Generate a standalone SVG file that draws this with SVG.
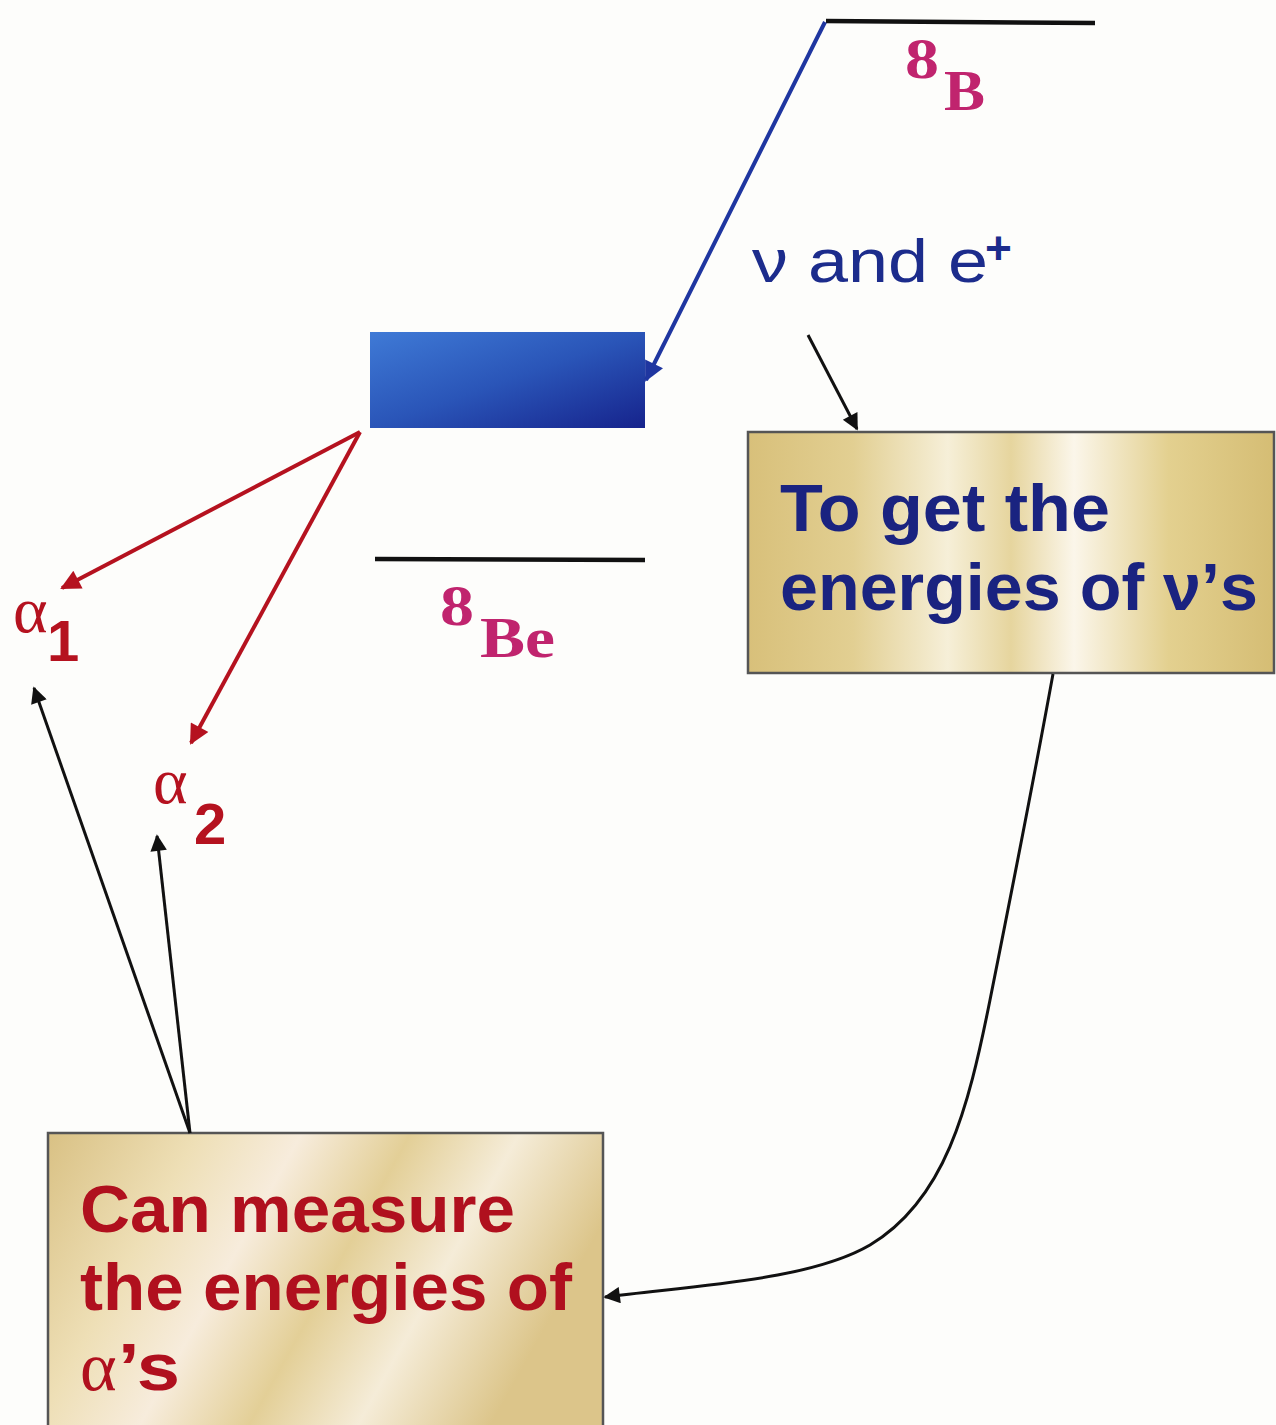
<svg xmlns="http://www.w3.org/2000/svg" width="1276" height="1425" viewBox="0 0 1276 1425">
<style>
.lvl{stroke:#111;stroke-width:4.5;fill:none}
.nuc{font-family:"Liberation Serif",serif;font-weight:bold;fill:#c0246e}
.alpha{font-family:"Liberation Serif",serif;fill:#b5121f}
.sub{font-family:"Liberation Sans",Arial,sans-serif;font-weight:bold;fill:#b5121f}
.box{stroke:#555;stroke-width:2.5}
.btxt{font-family:"Liberation Sans",Arial,sans-serif;font-weight:bold;font-size:67px}
.blue{stroke:#1f36a0;stroke-width:4;fill:none}
.red{stroke:#b5121f;stroke-width:4;fill:none}
.blk{stroke:#111;stroke-width:3;fill:none}
</style>
<defs>
<marker id="mBlue" viewBox="0 0 10 10" refX="9" refY="5" markerWidth="7" markerHeight="5" orient="auto" markerUnits="strokeWidth"><path d="M0,0 L10,5 L0,10 z" fill="#1f36a0"/></marker>
<marker id="mRed" viewBox="0 0 10 10" refX="9" refY="5" markerWidth="7" markerHeight="5" orient="auto" markerUnits="strokeWidth"><path d="M0,0 L10,5 L0,10 z" fill="#b5121f"/></marker>
<marker id="mBlk" viewBox="0 0 10 10" refX="9" refY="5" markerWidth="8" markerHeight="5.5" orient="auto" markerUnits="strokeWidth"><path d="M0,0 L10,5 L0,10 z" fill="#111"/></marker>
<linearGradient id="gBlue" x1="0" y1="0" x2="1" y2="1">
<stop offset="0" stop-color="#3f7ad6"/><stop offset="0.5" stop-color="#2a55b8"/><stop offset="1" stop-color="#16238c"/>
</linearGradient>
<linearGradient id="gGold1" x1="0" y1="0" x2="1" y2="0">
<stop offset="0" stop-color="#d8c07a"/><stop offset="0.2" stop-color="#e2cf92"/><stop offset="0.38" stop-color="#f6efd8"/><stop offset="0.5" stop-color="#e6d59e"/><stop offset="0.62" stop-color="#fbf6ea"/><stop offset="0.8" stop-color="#e3d08f"/><stop offset="1" stop-color="#d5bd74"/>
</linearGradient>
<linearGradient id="gGold2" x1="0" y1="0" x2="1" y2="0.3">
<stop offset="0" stop-color="#d9c184"/><stop offset="0.25" stop-color="#eedfb6"/><stop offset="0.42" stop-color="#f7ecdc"/><stop offset="0.6" stop-color="#e3cf97"/><stop offset="0.78" stop-color="#f5ecd8"/><stop offset="1" stop-color="#dcc58a"/>
</linearGradient>
</defs>
<rect width="1276" height="1425" fill="#fdfdfb"/>

<g id="level-8B">
<line class="lvl" x1="826" y1="21" x2="1095" y2="23"/>
<text class="nuc" x="905" y="78" font-size="56" textLength="34" lengthAdjust="spacingAndGlyphs">8</text>
<text class="nuc" x="944" y="110" font-size="56" textLength="41" lengthAdjust="spacingAndGlyphs">B</text>
</g>

<g id="excited-8Be">
<rect x="370" y="332" width="275" height="96" fill="url(#gBlue)"/>
</g>

<g id="level-8Be">
<line class="lvl" x1="375" y1="559" x2="645" y2="560"/>
<text class="nuc" x="440" y="625" font-size="56" textLength="34" lengthAdjust="spacingAndGlyphs">8</text>
<text class="nuc" x="480" y="657" font-size="56" textLength="75" lengthAdjust="spacingAndGlyphs">Be</text>
</g>

<g id="alpha1">
<text class="alpha" x="13" y="632" font-size="66">α</text>
<text class="sub" x="47" y="661" font-size="58">1</text>
</g>

<g id="alpha2">
<text class="alpha" x="153" y="803" font-size="66">α</text>
<text class="sub" x="194" y="844" font-size="58">2</text>
</g>

<g id="nu-label">
<text x="752" y="282" font-family="'Liberation Sans',Arial,sans-serif" font-size="62" fill="#1c2c8c" textLength="236" lengthAdjust="spacingAndGlyphs">ν and e</text>
<text x="985" y="264" font-family="'Liberation Sans',Arial,sans-serif" font-weight="bold" font-size="46" fill="#1c2c8c">+</text>
</g>

<g id="box-nu">
<rect class="box" x="748" y="432" width="526" height="241" fill="url(#gGold1)"/>
<text class="btxt" x="780" y="531" fill="#1a2380" textLength="330" lengthAdjust="spacingAndGlyphs">To get the</text>
<text class="btxt" x="780" y="610" fill="#1a2380" textLength="478" lengthAdjust="spacingAndGlyphs">energies of ν’s</text>
</g>

<g id="box-alpha">
<rect class="box" x="48" y="1133" width="555" height="300" fill="url(#gGold2)"/>
<text class="btxt" x="80" y="1232" fill="#b0101e" textLength="435" lengthAdjust="spacingAndGlyphs">Can measure</text>
<text class="btxt" x="80" y="1310" fill="#b0101e" textLength="492" lengthAdjust="spacingAndGlyphs">the energies of</text>
<text x="80" y="1390" font-family="'Liberation Serif',serif" font-size="70" fill="#b0101e">α</text>
<text class="btxt" x="118" y="1390" fill="#b0101e" textLength="62" lengthAdjust="spacingAndGlyphs">’s</text>
</g>

<g id="connectors">
<line class="blue" x1="825" y1="22" x2="646" y2="380" marker-end="url(#mBlue)"/>
<line class="red" x1="360" y1="432" x2="62" y2="588" marker-end="url(#mRed)"/>
<line class="red" x1="360" y1="432" x2="191" y2="743" marker-end="url(#mRed)"/>
<line class="blk" x1="808" y1="335" x2="857" y2="429" marker-end="url(#mBlk)"/>
<line class="blk" x1="190" y1="1133" x2="34" y2="688" marker-end="url(#mBlk)"/>
<line class="blk" x1="190" y1="1133" x2="157" y2="836" marker-end="url(#mBlk)"/>
<path class="blk" d="M1053,674 C1030,800 1010,900 990,1000 C968,1110 945,1200 870,1245 C810,1280 700,1285 605,1297" marker-end="url(#mBlk)"/>
</g>
</svg>
